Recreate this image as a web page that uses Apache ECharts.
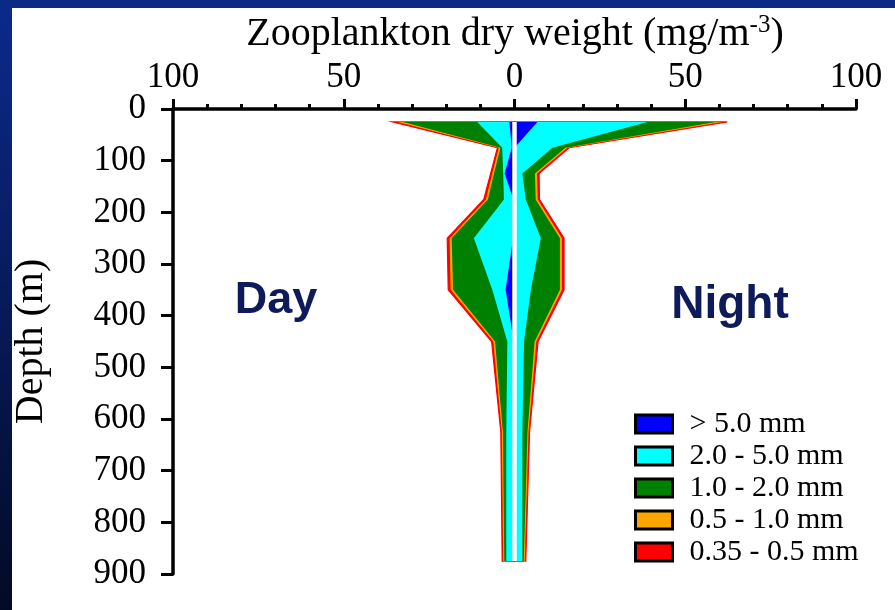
<!DOCTYPE html>
<html>
<head>
<meta charset="utf-8">
<title>Zooplankton dry weight by depth</title>
<script src="https://cdn.jsdelivr.net/npm/echarts@6/dist/echarts.min.js"></script>
<style>
  html, body { margin: 0; padding: 0; background: #ffffff; }
  #chart { width: 895px; height: 610px; }
</style>
</head>
<body>
<div id="chart"></div>
<script>
// Sampling depths (m): mid-points of the net strata
const depths = [25, 75, 125, 175, 250, 350, 450, 625, 875];

// Size classes, innermost (largest animals) first
const sizeClasses = ['> 5.0 mm', '2.0 - 5.0 mm', '1.0 - 2.0 mm', '0.5 - 1.0 mm', '0.35 - 0.5 mm'];
const classColors = ['#0000ff', '#00ffff', '#008000', '#ffa500', '#ff0000'];

// Day tows, dry weight per size class (mg/m3)
const dayGt5    = [1.5, 0.8, 2.9, 0.3, 0.4, 2.6, 0.2, 0.0, 0.0];
const day2to5   = [9.4, 2.8, 0.4, 2.8, 11.5, 3.9, 1.9, 2.4, 2.4];
const day1to2   = [21.8, 0.5, 2.7, 4.7, 6.5, 11.5, 3.6, 1.0, 0.6];
const day05to1  = [1.5, 0.5, 0.5, 0.6, 0.6, 0.7, 0.5, 0.3, 0.3];
const day035to05 = [1.5, 0.4, 0.5, 0.6, 0.7, 0.7, 0.5, 0.3, 0.3];

// Night tows, dry weight per size class (mg/m3)
const nightGt5    = [6.7, 0.0, 0.0, 0.0, 0.0, 0.0, 0.0, 0.0, 0.0];
const night2to5   = [32.2, 11.1, 2.3, 3.3, 7.7, 4.8, 2.8, 2.3, 2.3];
const night1to2   = [20.1, 3.8, 3.7, 2.9, 5.6, 8.5, 3.1, 1.5, 0.4];
const night05to1  = [1.8, 0.6, 0.6, 0.6, 0.6, 0.6, 0.5, 0.3, 0.3];
const night035to05 = [1.5, 0.5, 0.6, 0.5, 0.6, 0.6, 0.5, 0.3, 0.3];

// Axis ticks
const weightTicks = [-100, -50, 0, 50, 100];
const depthTicks = [0, 100, 200, 300, 400, 500, 600, 700, 800, 900];

const daySeries = [dayGt5, day2to5, day1to2, day05to1, day035to05];
const nightSeries = [nightGt5, night2to5, night1to2, night05to1, night035to05];

// Cumulative totals outward from the centre line (class k includes classes 0..k)
function cumulate(list) {
  const out = [];
  let run = depths.map(() => 0);
  list.forEach(arr => {
    run = run.map((v, i) => v + arr[i]);
    out.push(run.slice());
  });
  return out;
}
const dayCum = cumulate(daySeries);
const nightCum = cumulate(nightSeries);

const serif = "'Liberation Serif', 'Times New Roman', Times, serif";

// Each class is drawn as a filled profile from the centre line out to its cumulative total;
// outer classes sit underneath inner ones so the bands read as stacked.
function profileRenderer(k) {
  const outermost = k === sizeClasses.length - 1;
  return function (params, api) {
    const side = api.value(0);           // 0 = day (left), 1 = night (right)
    const sign = side === 0 ? -1 : 1;
    const cum = side === 0 ? dayCum[k] : nightCum[k];
    const pts = [];
    depths.forEach((d, i) => pts.push(api.coord([sign * cum[i], d])));
    for (let i = depths.length - 1; i >= 0; i--) pts.push(api.coord([0, depths[i]]));
    return {
      type: 'polygon',
      shape: { points: pts },
      style: {
        fill: classColors[k],
        stroke: outermost ? classColors[k] : null,
        lineWidth: outermost ? 1.2 : 0,
        lineJoin: 'miter'
      }
    };
  };
}

const series = sizeClasses.map((name, k) => ({
  name: name,
  type: 'custom',
  coordinateSystem: 'cartesian2d',
  z: 10 - k,
  itemStyle: { color: classColors[k] },
  encode: { x: 0, y: 1 },
  data: [[0, 0], [1, 0]],
  renderItem: profileRenderer(k),
  silent: true
}));

// White divider between the day and night profiles
series.push({
  name: 'divider',
  type: 'line',
  z: 20,
  silent: true,
  symbol: 'none',
  lineStyle: { color: '#ffffff', width: 4.5 },
  data: [[0, depths[0]], [0, depths[depths.length - 1]]]
});

const chart = echarts.init(document.getElementById('chart'), null, { renderer: 'canvas' });

chart.setOption({
  backgroundColor: '#ffffff',
  animation: false,
  grid: {
    left: 173, right: 39, top: 109, bottom: 36,
    containLabel: false,
    outerBoundsMode: 'none'
  },
  xAxis: {
    type: 'value',
    position: 'top',
    min: weightTicks[0],
    max: weightTicks[weightTicks.length - 1],
    interval: 50,
    splitNumber: 4,
    axisLine: { show: true, onZero: false, lineStyle: { color: '#000', width: 3.5 } },
    axisTick: { show: true, inside: false, length: 10, lineStyle: { color: '#000', width: 3 } },
    minorTick: { show: true, splitNumber: 5, length: 5, lineStyle: { color: '#000', width: 3 } },
    splitLine: { show: false },
    axisLabel: {
      margin: 14,
      color: '#000',
      fontFamily: serif,
      fontSize: 35,
      formatter: v => String(Math.abs(v))
    }
  },
  yAxis: {
    type: 'value',
    inverse: true,
    min: depthTicks[0],
    max: depthTicks[depthTicks.length - 1],
    interval: 100,
    name: 'Depth (m)',
    nameLocation: 'middle',
    nameRotate: 90,
    nameGap: 122,
    nameTextStyle: { color: '#000', fontFamily: serif, fontSize: 40 },
    axisLine: { show: true, onZero: false, lineStyle: { color: '#000', width: 3.5 } },
    axisTick: { show: true, inside: false, length: 12, lineStyle: { color: '#000', width: 3 } },
    splitLine: { show: false },
    axisLabel: {
      margin: 27,
      color: '#000',
      fontFamily: serif,
      fontSize: 35
    }
  },
  legend: {
    orient: 'vertical',
    left: 634,
    top: 409,
    padding: 0,
    data: sizeClasses,
    icon: 'rect',
    itemWidth: 37,
    itemHeight: 18,
    itemGap: 2,
    selectedMode: false,
    itemStyle: { borderColor: '#000', borderWidth: 3 },
    textStyle: {
      color: '#000',
      fontFamily: serif,
      fontSize: 30,
      padding: [0, 0, 0, 12]
    }
  },
  graphic: [
    {
      type: 'rect', z: -10, silent: true,
      shape: { x: 0, y: 0, width: 12, height: 610 },
      style: {
        fill: new echarts.graphic.LinearGradient(0, 0, 0, 1, [
          { offset: 0, color: '#0b2a8c' },
          { offset: 1, color: '#030a26' }
        ])
      }
    },
    {
      type: 'rect', z: -10, silent: true,
      shape: { x: 0, y: 0, width: 895, height: 8 },
      style: { fill: '#0b2a86' }
    },
    {
      type: 'text', silent: true,
      x: 515, y: 13,
      style: {
        text: '{a|Zooplankton dry weight (mg/m}{s|-3}{a|)}',
        align: 'center',
        rich: {
          a: { fontFamily: serif, fontSize: 40, color: '#000', lineHeight: 42 },
          s: { fontFamily: serif, fontSize: 25, color: '#000', verticalAlign: 'top', lineHeight: 42 }
        }
      }
    },
    {
      type: 'text', silent: true,
      x: 276, y: 301,
      style: {
        text: 'Day', align: 'center', verticalAlign: 'middle',
        fontFamily: "'Liberation Sans', Arial, sans-serif", fontWeight: 'bold',
        fontSize: 45, fill: '#0e1a5a'
      }
    },
    {
      type: 'text', silent: true,
      x: 730, y: 305,
      style: {
        text: 'Night', align: 'center', verticalAlign: 'middle',
        fontFamily: "'Liberation Sans', Arial, sans-serif", fontWeight: 'bold',
        fontSize: 46, fill: '#0e1a5a'
      }
    }
  ],
  series: series
});
</script>
</body>
</html>
